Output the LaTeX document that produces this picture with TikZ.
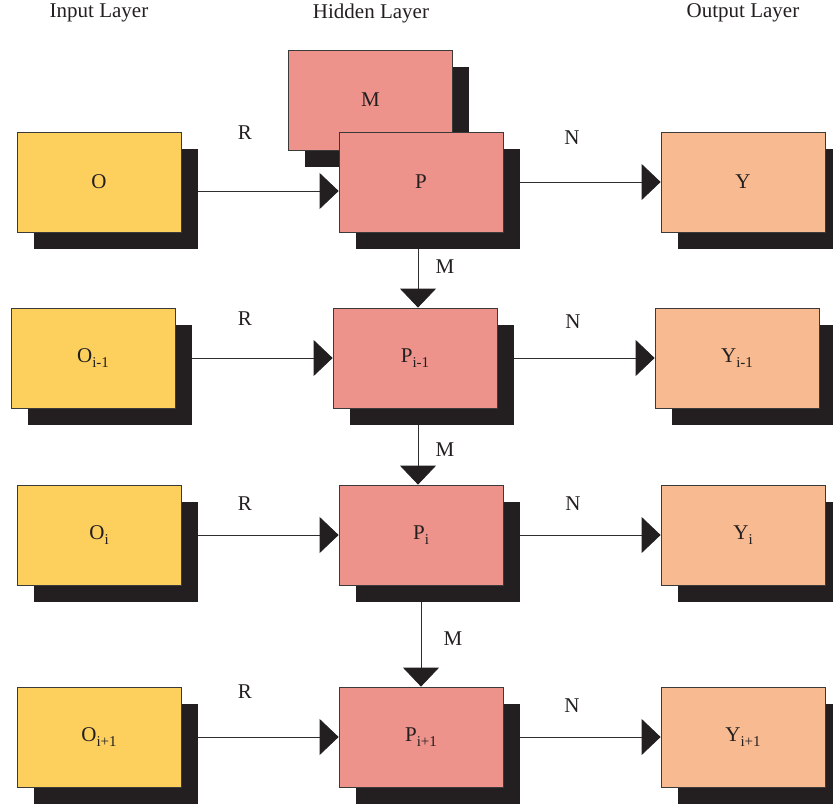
\documentclass[tikz,border=0pt]{standalone}
\usepackage{fontspec}
\setmainfont{Liberation Serif}
\usetikzlibrary{arrows.meta,calc}
\definecolor{inyel}{HTML}{FDD05E}
\definecolor{hidpink}{HTML}{EE938B}
\definecolor{outpeach}{HTML}{F8BA90}
\definecolor{shadowc}{HTML}{231F20}
\definecolor{boxline}{HTML}{3A3A3A}
\definecolor{linec}{HTML}{2E2E2E}
\newcommand{\sbs}[1]{\raisebox{-5pt}{\fontsize{15}{18}\selectfont #1}}
\begin{document}
\begin{tikzpicture}[x=1pt,y=-1pt,
  txt/.style={font=\fontsize{21}{25}\selectfont, text=shadowc, inner sep=0pt},
  box/.style={draw=boxline, line width=0.8pt, minimum width=164pt, minimum height=100pt, inner sep=0pt, font=\fontsize{21}{25}\selectfont, text=shadowc},
  shadowbox/.style={fill=shadowc, minimum width=164pt, minimum height=100pt, inner sep=0pt},
  inbox/.style={box, fill=inyel},
  hidbox/.style={box, fill=hidpink},
  outbox/.style={box, fill=outpeach},
  arr/.style={draw=linec, line width=0.9pt, -{Triangle[length=19pt,width=36pt,color=shadowc]}}
]
\useasboundingbox (0,0) rectangle (833,808);

% titles
\node[txt] (tin) at (99,13) {Input Layer};
\node[txt] (thid) at (371,13) {Hidden Layer};
\node[txt] (tout) at (743,13) {Output Layer};

% row 1
\node[shadowbox] (Ms) at (387,117) {};
\node[hidbox] (M) at (370.5,100) {M};
\node[shadowbox] (O1s) at (115.5,199) {};
\node[inbox] (O1) at (99,182) {O};
\node[shadowbox] (P1s) at (437.5,199) {};
\node[hidbox] (P1) at (421,182) {P};
\node[shadowbox] (Y1s) at (759.5,199) {};
\node[outbox] (Y1) at (743,182) {\raisebox{-5pt}{Y}};

% row 2
\node[shadowbox] (O2s) at (109.5,375) {};
\node[inbox] (O2) at (93,358) {O\sbs{i-1}};
\node[shadowbox] (P2s) at (431.5,375) {};
\node[hidbox] (P2) at (415,358) {P\sbs{i-1}};
\node[shadowbox] (Y2s) at (753.5,375) {};
\node[outbox] (Y2) at (737,358) {Y\sbs{i-1}};

% row 3
\node[shadowbox] (O3s) at (115.5,552) {};
\node[inbox] (O3) at (99,535) {O\sbs{i}};
\node[shadowbox] (P3s) at (437.5,552) {};
\node[hidbox] (P3) at (421,535) {P\sbs{i}};
\node[shadowbox] (Y3s) at (759.5,552) {};
\node[outbox] (Y3) at (743,535) {Y\sbs{i}};

% row 4
\node[shadowbox] (O4s) at (115.5,754) {};
\node[inbox] (O4) at (99,737) {O\sbs{i+1}};
\node[shadowbox] (P4s) at (437.5,754) {};
\node[hidbox] (P4) at (421,737) {P\sbs{i+1}};
\node[shadowbox] (Y4s) at (759.5,754) {};
\node[outbox] (Y4) at (743,737) {Y\sbs{i+1}};

% horizontal connectors
\coordinate (r1) at (0,191);
\draw[arr] (O1s.east |- r1) -- (P1.west |- r1);
\draw[arr] (P1s.east |- P1.east) -- (Y1.west);
\draw[arr] (O2s.east |- O2.east) -- (P2.west);
\draw[arr] (P2s.east |- P2.east) -- (Y2.west);
\draw[arr] (O3s.east |- O3.east) -- (P3.west);
\draw[arr] (P3s.east |- P3.east) -- (Y3.west);
\draw[arr] (O4s.east |- O4.east) -- (P4.west);
\draw[arr] (P4s.east |- P4.east) -- (Y4.west);

% vertical connectors
\coordinate (d1) at ([xshift=-3pt]P1.south);
\coordinate (d2) at ([xshift=3pt]P2.south);
\draw[arr] (d1 |- P1s.south) -- (d1 |- P2.north);
\draw[arr] (d2 |- P2s.south) -- (d2 |- P3.north);
\draw[arr] (P3.south |- P3s.south) -- (P3.south |- P4.north);

% labels
\node[txt] (R1) at (245,133) {R};
\node[txt] (R2) at (245,319) {R};
\node[txt] (R3) at (245,504) {R};
\node[txt] (R4) at (245,692) {R};
\node[txt] (N1) at (572,138) {N};
\node[txt] (N2) at (573,322) {N};
\node[txt] (N3) at (573,504) {N};
\node[txt] (N4) at (572,706) {N};
\node[txt] (M1) at (445,267) {M};
\node[txt] (M2) at (445,450) {M};
\node[txt] (M3) at (453,639) {M};
\end{tikzpicture}
\end{document}
